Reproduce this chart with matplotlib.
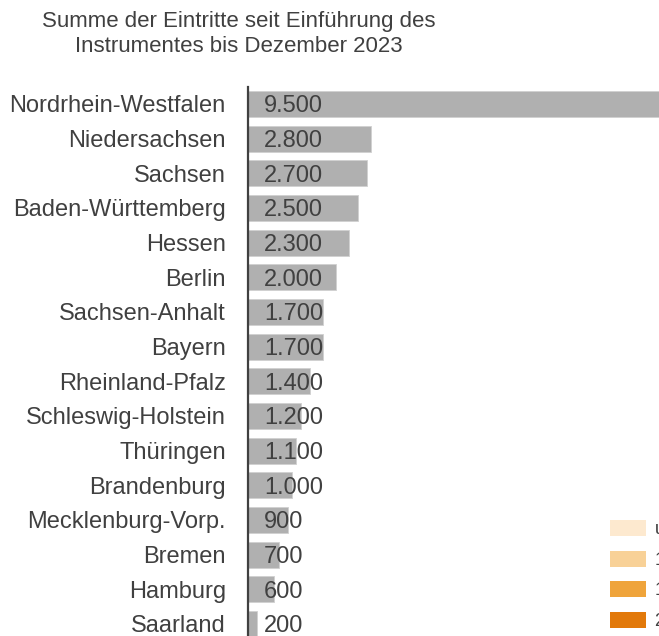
import matplotlib
matplotlib.use("Agg")
import matplotlib.pyplot as plt
from matplotlib.patches import Patch

plt.rcParams['font.family'] = ['Liberation Sans', 'DejaVu Sans']

title = "Summe der Eintritte seit Einführung des\nInstrumentes bis Dezember 2023"
states = ["Nordrhein-Westfalen", "Niedersachsen", "Sachsen", "Baden-Württemberg",
          "Hessen", "Berlin", "Sachsen-Anhalt", "Bayern", "Rheinland-Pfalz",
          "Schleswig-Holstein", "Thüringen", "Brandenburg", "Mecklenburg-Vorp.",
          "Bremen", "Hamburg", "Saarland"]
values = [9500, 2800, 2700, 2500, 2300, 2000, 1700, 1700, 1400, 1200, 1100, 1000,
          900, 700, 600, 200]
value_labels = ["9.500", "2.800", "2.700", "2.500", "2.300", "2.000", "1.700", "1.700",
                "1.400", "1.200", "1.100", "1.000", "900", "700", "600", "200"]
legend_labels = ["unter 1.000", "1.000 bis 1.499", "1.500 bis 1.999", "2.000 und mehr"]
legend_colors = ["#FDE9CF", "#F8D197", "#EFA43B", "#E2790A"]

TXT = "#404040"
fig = plt.figure(figsize=(6.59, 6.36), dpi=100)
ax = fig.add_axes([248/659, 0.0, 1 - 248/659, (636-87)/636])

y = list(range(len(states)))
ax.barh(y, values, height=0.75, color="#B0B0B0", edgecolor="#D0D0D0",
        linewidth=0.6, zorder=2)
ax.set_xlim(0, 9340)
ax.set_ylim(15.35, -0.49)
ax.set_yticks(y)
ax.set_yticklabels(states, fontsize=17, color=TXT)
ax.tick_params(axis='y', length=0, pad=16)
ax.set_xticks([])
for s in ["top", "right", "bottom"]:
    ax.spines[s].set_visible(False)
ax.spines["left"].set_color("#404040")
ax.spines["left"].set_linewidth(1.6)

for yi, lab in zip(y, value_labels):
    ax.annotate(lab, xy=(0, yi), xytext=(16, 0), textcoords="offset pixels",
                ha="left", va="center_baseline", fontsize=17, color=TXT, zorder=3)

fig.text(239/659, 1 - 34/636, title, ha="center", va="center", fontsize=16,
         color=TXT, linespacing=1.3)

handles = [Patch(facecolor=c, edgecolor="none") for c in legend_colors]
fig.legend(handles, legend_labels, loc="upper left",
           bbox_to_anchor=(610/659, 1 - 520/636), frameon=False, fontsize=13,
           handlelength=2.0, handleheight=1.0, handletextpad=0.5,
           labelspacing=0.68, borderpad=0, borderaxespad=0, labelcolor=TXT)

fig.savefig("out.png", dpi=100)
